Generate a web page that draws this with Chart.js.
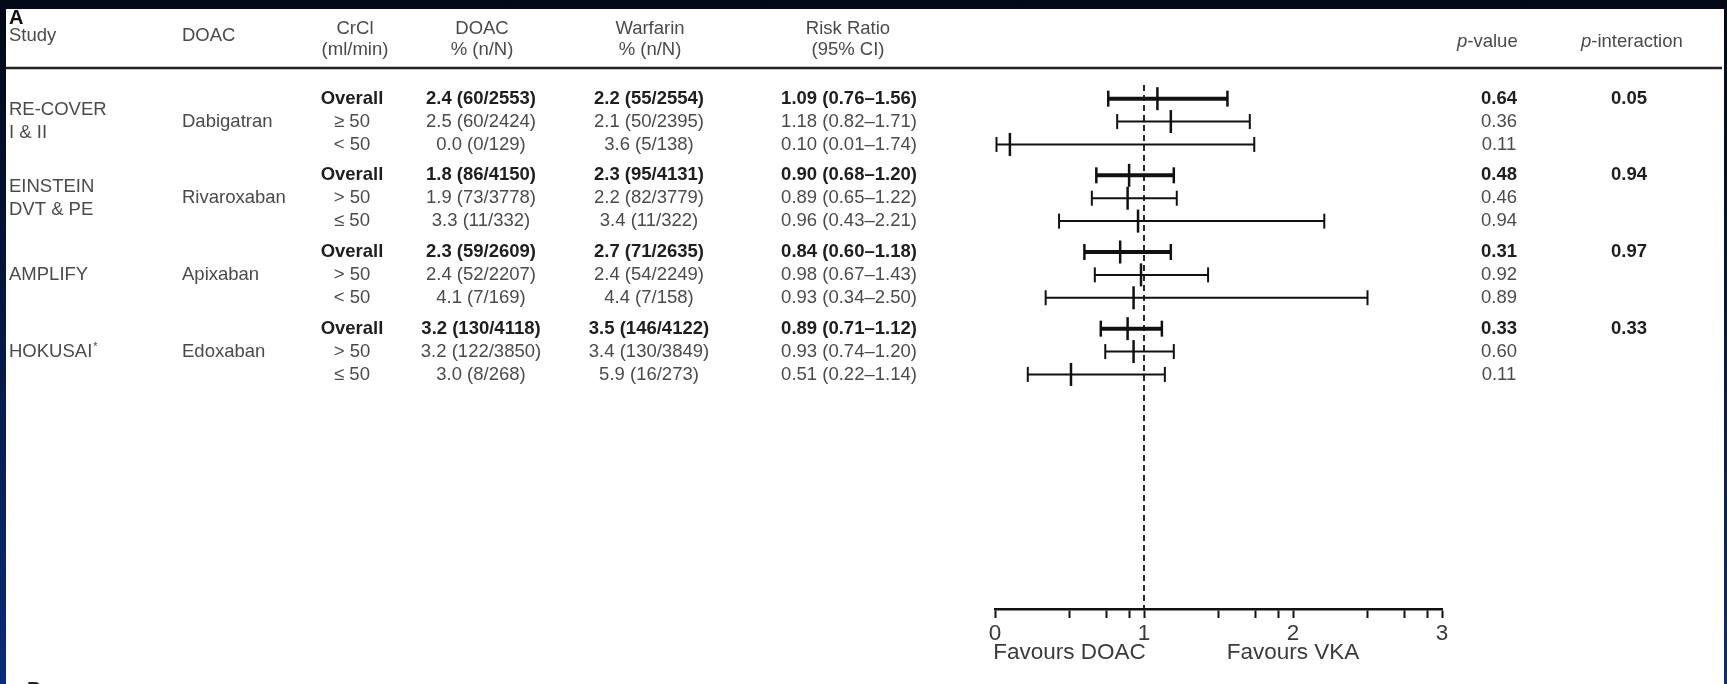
<!DOCTYPE html>
<html>
<head>
<meta charset="UTF-8">
<title>DOAC vs warfarin by CrCl</title>
<script src="https://cdn.jsdelivr.net/npm/chart.js"></script>
<style>
html,body{margin:0;padding:0;}
body{width:1727px;height:684px;overflow:hidden;background:linear-gradient(#020817 0%,#05173f 45%,#0b2c7c 100%);}
#wrap{position:absolute;left:0;top:0;width:1727px;height:684px;}
</style>
<script>
// data
const studies = [['RE-COVER', 'I & II'], ['EINSTEIN', 'DVT & PE'], ['AMPLIFY'], ['HOKUSAI']];
const studyMarks = ['', '', '', '*'];
const drugs = ['Dabigatran', 'Rivaroxaban', 'Apixaban', 'Edoxaban'];
const crcl = ['Overall', '≥ 50', '< 50', 'Overall', '> 50', '≤ 50', 'Overall', '> 50', '< 50', 'Overall', '> 50', '≤ 50'];

const doacPct = [2.4, 2.5, 0.0, 1.8, 1.9, 3.3, 2.3, 2.4, 4.1, 3.2, 3.2, 3.0];
const doacEvents = [60, 60, 0, 86, 73, 11, 59, 52, 7, 130, 122, 8];
const doacTotal = [2553, 2424, 129, 4150, 3778, 332, 2609, 2207, 169, 4118, 3850, 268];

const warfPct = [2.2, 2.1, 3.6, 2.3, 2.2, 3.4, 2.7, 2.4, 4.4, 3.5, 3.4, 5.9];
const warfEvents = [55, 50, 5, 95, 82, 11, 71, 54, 7, 146, 130, 16];
const warfTotal = [2554, 2395, 138, 4131, 3779, 322, 2635, 2249, 158, 4122, 3849, 273];

const rr = [1.09, 1.18, 0.10, 0.90, 0.89, 0.96, 0.84, 0.98, 0.93, 0.89, 0.93, 0.51];
const rrLow = [0.76, 0.82, 0.01, 0.68, 0.65, 0.43, 0.60, 0.67, 0.34, 0.71, 0.74, 0.22];
const rrHigh = [1.56, 1.71, 1.74, 1.20, 1.22, 2.21, 1.18, 1.43, 2.50, 1.12, 1.20, 1.14];

const pValue = ['0.64', '0.36', '0.11', '0.48', '0.46', '0.94', '0.31', '0.92', '0.89', '0.33', '0.60', '0.11'];
const pInteraction = ['0.05', '0.94', '0.97', '0.33'];

const xTicks = [0, 0.5, 0.75, 0.9, 1, 1.5, 1.75, 1.9, 2, 2.5, 2.75, 2.9, 3];
const refValue = 1;
</script>
</head>
<body>
<div id="wrap"><canvas id="forest" width="1727" height="684"></canvas></div>
<script>
const FONT = "'Liberation Sans', Arial, Helvetica, sans-serif";
const INK = '#111';
const GAP = 0.35;          // extra space between studies, in rows
const Y_MIN = -3.7, Y_MAX = 22.3;

// row positions on the y scale: 3 rows per study
const rowPos = [];
studies.forEach((s, g) => { for (let k = 0; k < 3; k++) rowPos.push(g * (3 + GAP) + k); });
const isOverall = rowPos.map((p, i) => i % 3 === 0);

const fmt = (p, n, N) => p.toFixed(1) + ' (' + n + '/' + N + ')';
const rrText = rr.map((v, i) => v.toFixed(2) + ' (' + rrLow[i].toFixed(2) + '–' + rrHigh[i].toFixed(2) + ')');

// CI lines, one per row
const ciSets = rowPos.map((p, i) => ({
  type: 'line',
  data: [{x: rrLow[i], y: p}, {x: rrHigh[i], y: p}],
  borderColor: INK,
  borderWidth: isOverall[i] ? 4 : 2,
  pointRadius: 0,
  clip: false
}));

function pts(filter, vals) {
  const out = [];
  rowPos.forEach((p, i) => { if (filter(i)) vals.forEach(a => out.push({x: a[i], y: p})); });
  return out;
}

const markSets = [
  { type: 'scatter', data: pts(i => isOverall[i], [rrLow, rrHigh]),
    pointStyle: 'line', pointRotation: 90, pointRadius: 8, pointBorderWidth: 2.5, pointBorderColor: INK, clip: false },
  { type: 'scatter', data: pts(i => !isOverall[i], [rrLow, rrHigh]),
    pointStyle: 'line', pointRotation: 90, pointRadius: 7.5, pointBorderWidth: 2, pointBorderColor: INK, clip: false },
  { type: 'scatter', data: pts(i => true, [rr]),
    pointStyle: 'line', pointRotation: 90, pointRadius: 11.5, pointBorderWidth: 2.5, pointBorderColor: INK, clip: false },
  { type: 'line', data: [{x: refValue, y: rowPos[0] - 0.6}, {x: refValue, y: Y_MAX}],
    borderColor: INK, borderWidth: 1.8, borderDash: [6, 4], pointRadius: 0, clip: false }
];

function txt(ctx, s, x, y, o) {
  ctx.font = (o.italic ? 'italic ' : '') + (o.bold ? 'bold ' : '') + (o.size || 18.5) + 'px ' + FONT;
  ctx.fillStyle = o.color || '#4a4a4a';
  ctx.textAlign = o.align || 'left';
  ctx.textBaseline = 'middle';
  ctx.fillText(s, x, y);
  return ctx.measureText(s).width;
}

const tablePlugin = {
  id: 'table',
  beforeDraw(chart) {
    const ctx = chart.ctx;
    ctx.save();
    ctx.fillStyle = '#fff';
    ctx.fillRect(6, 9, 1718, 675);
    ctx.restore();
  },
  afterDraw(chart) {
    const ctx = chart.ctx, ys = chart.scales.y;
    ctx.save();
    // headers
    txt(ctx, 'A', 9, 18, {bold: true, size: 20, color: '#111'});
    const hc = '#4a4a4a';
    txt(ctx, 'Study', 9, 36, {color: hc});
    txt(ctx, 'DOAC', 182, 36, {color: hc});
    [['CrCl', '(ml/min)', 355], ['DOAC', '% (n/N)', 482], ['Warfarin', '% (n/N)', 650], ['Risk Ratio', '(95% CI)', 848]].forEach(h => {
      txt(ctx, h[0], h[2], 29, {align: 'center', color: hc});
      txt(ctx, h[1], h[2], 50, {align: 'center', color: hc});
    });
    let w = txt(ctx, 'p', 1457, 42, {italic: true, color: hc});
    txt(ctx, '-value', 1457 + w, 42, {color: hc});
    w = txt(ctx, 'p', 1581, 42, {italic: true, color: hc});
    txt(ctx, '-interaction', 1581 + w, 42, {color: hc});

    ctx.strokeStyle = '#222';
    ctx.lineWidth = 2.5;
    ctx.beginPath(); ctx.moveTo(6, 68); ctx.lineTo(1722, 68); ctx.stroke();

    // rows
    rowPos.forEach((p, i) => {
      const y = ys.getPixelForValue(p);
      const o = isOverall[i] ? {bold: true, color: '#1e1e1e', align: 'center'} : {color: '#4a4a4a', align: 'center'};
      txt(ctx, crcl[i], 352, y, o);
      txt(ctx, fmt(doacPct[i], doacEvents[i], doacTotal[i]), 481, y, o);
      txt(ctx, fmt(warfPct[i], warfEvents[i], warfTotal[i]), 649, y, o);
      txt(ctx, rrText[i], 849, y, o);
      txt(ctx, pValue[i], 1499, y, o);
    });
    studies.forEach((lines, g) => {
      const mid = rowPos[g * 3 + 1];
      lines.forEach((s, k) => {
        const y = ys.getPixelForValue(mid + k - (lines.length - 1) / 2);
        const w2 = txt(ctx, s, 9, y, {color: '#4a4a4a'});
        if (k === lines.length - 1 && studyMarks[g]) txt(ctx, studyMarks[g], 10 + w2, y - 5, {size: 11, color: '#4a4a4a'});
      });
      txt(ctx, drugs[g], 182, ys.getPixelForValue(mid), {color: '#4a4a4a'});
      txt(ctx, pInteraction[g], 1629, ys.getPixelForValue(rowPos[g * 3]), {bold: true, color: '#1e1e1e', align: 'center'});
    });
    // top of panel B
    txt(ctx, 'B', 27, 690, {bold: true, size: 20, color: '#222'});
    ctx.restore();
  }
};

new Chart(document.getElementById('forest'), {
  type: 'scatter',
  data: { datasets: ciSets.concat(markSets) },
  options: {
    responsive: false,
    animation: false,
    layout: { padding: { left: 995, right: 285, top: 11, bottom: 0 } },
    plugins: { legend: { display: false }, tooltip: { enabled: false } },
    scales: {
      x: {
        type: 'linear', min: 0, max: 3, position: 'bottom',
        afterBuildTicks: s => { s.ticks = xTicks.map(v => ({value: v})); },
        afterFit: s => { s.height = 75; },
        ticks: {
          autoSkip: false, maxRotation: 0, minRotation: 0, padding: 6,
          color: '#3a3a3a', font: { family: FONT, size: 22.5, lineHeight: 0.84 },
          callback: v => v === 0.5 ? ['', 'Favours DOAC'] : v === 2 ? ['2', 'Favours VKA'] : (Number.isInteger(v) ? String(v) : '')
        },
        grid: { drawOnChartArea: false, drawTicks: true, tickLength: 9, tickWidth: 2, tickColor: INK },
        border: { display: true, width: 2.5, color: INK }
      },
      y: { type: 'linear', reverse: true, min: Y_MIN, max: Y_MAX, display: false }
    }
  },
  plugins: [tablePlugin]
});
</script>
</body>
</html>
